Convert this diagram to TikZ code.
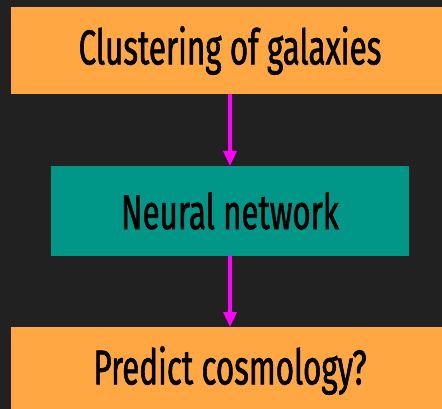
\documentclass[tikz,border=0pt]{standalone}
\usepackage{fontspec}
\setmainfont{Fira Sans}[FakeStretch=0.64,FakeBold=1.2]
\usetikzlibrary{arrows.meta}
\definecolor{bg}{HTML}{212121}
\definecolor{orangebox}{HTML}{FFA843}
\definecolor{tealbox}{HTML}{009688}
\definecolor{arrowcol}{HTML}{FF00FF}
\tikzset{
  box/.style={draw=none, inner sep=0pt, outer sep=0pt, text=black,
    font=\fontsize{49}{52}\selectfont, anchor=center},
  orangestep/.style={box, fill=orangebox, minimum width=438pt, minimum height=87pt},
  tealstep/.style={box, fill=tealbox, minimum width=358pt, minimum height=90pt},
  flow/.style={draw=arrowcol, line width=3.5pt, -{Triangle[width=13pt,length=15pt]}}
}
\begin{document}
\begin{tikzpicture}[x=1pt,y=-1pt]
\useasboundingbox (0,0) rectangle (442,409);
\fill[bg] (0,0) rectangle (442,409);
\clip (0,0) rectangle (442,409);
\node[orangestep] (top) at (230,50.5) {\raisebox{1pt}{Clustering of galaxies}};
\node[tealstep] (mid) at (230,211) {Neural network};
\node[orangestep] (bot) at (230,370.5) {\raisebox{1pt}{Predict cosmology?}};
\draw[flow] (top.south) -- (mid.north);
\draw[flow] (mid.south) -- (bot.north);
\end{tikzpicture}
\end{document}
